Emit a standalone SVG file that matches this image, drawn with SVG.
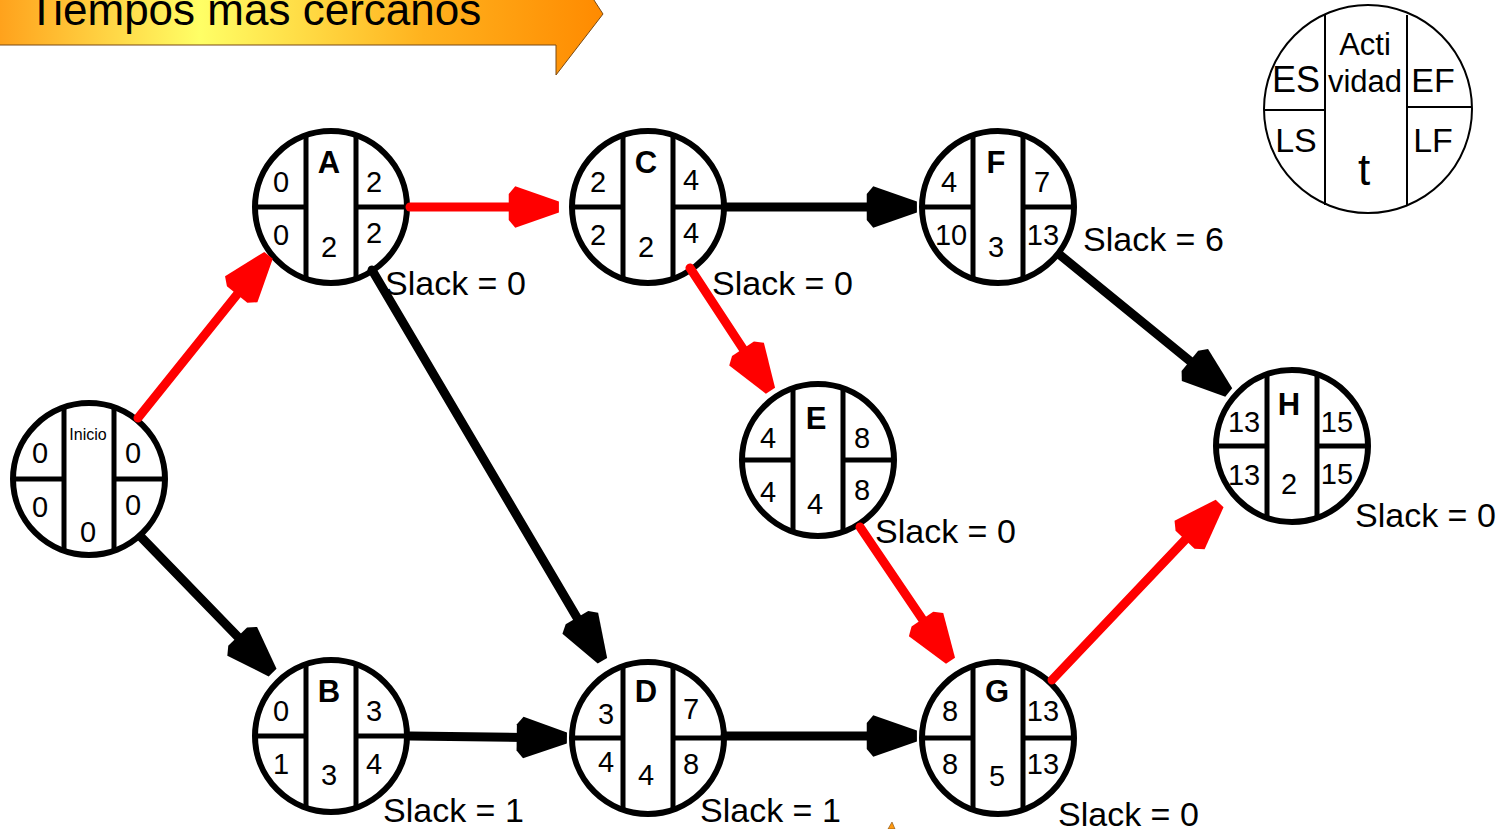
<svg xmlns="http://www.w3.org/2000/svg" width="1507" height="829" viewBox="0 0 1507 829">
  <defs>
    <linearGradient id="bannerFill" gradientUnits="userSpaceOnUse" x1="0" y1="0" x2="605" y2="0">
      <stop offset="0" stop-color="#ffa21c"/>
      <stop offset="0.33" stop-color="#ffff66"/>
      <stop offset="0.7" stop-color="#ffb21e"/>
      <stop offset="1" stop-color="#ff8a00"/>
    </linearGradient>
    <marker id="headRed" markerUnits="userSpaceOnUse" orient="auto" refX="-10" refY="0" markerWidth="60" markerHeight="60" viewBox="-50 -25 55 50" overflow="visible">
      <path d="M-46,-12 L-40,-19 L0,-5 L0,5 L-40,19 L-46,12 Z" fill="#ff0000"/>
    </marker>
    <marker id="headBlack" markerUnits="userSpaceOnUse" orient="auto" refX="-10" refY="0" markerWidth="60" markerHeight="60" viewBox="-50 -25 55 50" overflow="visible">
      <path d="M-46,-12 L-40,-19 L0,-5 L0,5 L-40,19 L-46,12 Z" fill="#000000"/>
    </marker>
  </defs>
  <style>
    text { font-family: "Liberation Sans", Arial, sans-serif; fill: #000; }
    .ring { fill: #fff; stroke: #000; stroke-width: 6; }
    .div { fill: none; stroke: #000; stroke-width: 5; }
    .num { font-size: 29px; text-anchor: middle; }
    .lbl { font-size: 31px; font-weight: bold; text-anchor: middle; }
    .slack { font-size: 34px; }
    .edge { fill: none; stroke-width: 9; stroke-linecap: round; }
    .crit { stroke: #ff0000; marker-end: url(#headRed); }
    .norm { stroke: #000; marker-end: url(#headBlack); }
    .key { fill: #fff; stroke: #000; stroke-width: 2; }
    .keyline { fill: none; stroke: #000; stroke-width: 2; }
    .keytxt { text-anchor: middle; }
  </style>

  <rect x="0" y="0" width="1507" height="829" fill="#fff"/>

  <!-- title banner -->
  <g id="banner">
    <polygon points="-5,-20 581,-20 603,14 556,75 556,45 -5,45" fill="url(#bannerFill)" stroke="#7a4a14" stroke-width="1"/>
    <text x="28" y="25" font-size="44">Tiempos más cercanos</text>
    <polygon points="888,829 892,822 895,829" fill="#ff9a10" stroke="#7a4a14" stroke-width="0.6"/>
  </g>

  <!-- legend: field layout of a node -->
  <g id="legend">
    <circle class="key" cx="1368" cy="109" r="104"/>
    <path class="keyline" d="M1325,14V205M1407,15V205M1264,110H1325M1407,107H1472"/>
    <text class="keytxt" x="1365" y="55" font-size="31">Acti</text>
    <text class="keytxt" x="1365" y="92" font-size="31">vidad</text>
    <text class="keytxt" x="1296" y="92" font-size="36">ES</text>
    <text class="keytxt" x="1433" y="92" font-size="34">EF</text>
    <text class="keytxt" x="1296" y="152" font-size="34">LS</text>
    <text class="keytxt" x="1433" y="152" font-size="34">LF</text>
    <text class="keytxt" x="1364" y="185" font-size="44">t</text>
  </g>

  <!-- activity nodes -->
  <g id="node-Inicio">
    <g transform="translate(89,479)">
      <circle class="ring" r="76"/>
      <path class="div" d="M-25,-72V72M25,-72V72M-76,0H-25M25,0H76"/>
      <text x="-1" y="-39" font-size="16" text-anchor="middle">Inicio</text>
      <text class="num" x="-49" y="-16">0</text>
      <text class="num" x="-49" y="38">0</text>
      <text class="num" x="-1" y="63">0</text>
      <text class="num" x="44" y="-16">0</text>
      <text class="num" x="44" y="36">0</text>
    </g>
  </g>

  <g id="node-A">
    <g transform="translate(331,207)">
      <circle class="ring" r="76"/>
      <path class="div" d="M-25,-72V72M25,-72V72M-76,0H-25M25,0H76"/>
      <text class="lbl" x="-2" y="-34">A</text>
      <text class="num" x="-50" y="-15">0</text>
      <text class="num" x="-50" y="38">0</text>
      <text class="num" x="-2" y="50">2</text>
      <text class="num" x="43" y="-15">2</text>
      <text class="num" x="43" y="36">2</text>
    </g>
    <text class="slack" x="385" y="295">Slack = 0</text>
  </g>

  <g id="node-B">
    <g transform="translate(331,736)">
      <circle class="ring" r="76"/>
      <path class="div" d="M-25,-72V72M25,-72V72M-76,0H-25M25,0H76"/>
      <text class="lbl" x="-2" y="-34">B</text>
      <text class="num" x="-50" y="-15">0</text>
      <text class="num" x="-50" y="38">1</text>
      <text class="num" x="-2" y="49">3</text>
      <text class="num" x="43" y="-15">3</text>
      <text class="num" x="43" y="38">4</text>
    </g>
    <text class="slack" x="383" y="822">Slack = 1</text>
  </g>

  <g id="node-C">
    <g transform="translate(648,207)">
      <circle class="ring" r="76"/>
      <path class="div" d="M-25,-72V72M25,-72V72M-76,0H-25M25,0H76"/>
      <text class="lbl" x="-2" y="-34">C</text>
      <text class="num" x="-50" y="-15">2</text>
      <text class="num" x="-50" y="38">2</text>
      <text class="num" x="-2" y="50">2</text>
      <text class="num" x="43" y="-17">4</text>
      <text class="num" x="43" y="36">4</text>
    </g>
    <text class="slack" x="712" y="295">Slack = 0</text>
  </g>

  <g id="node-D">
    <g transform="translate(648,738)">
      <circle class="ring" r="76"/>
      <path class="div" d="M-25,-72V72M25,-72V72M-76,0H-25M25,0H76"/>
      <text class="lbl" x="-2" y="-36">D</text>
      <text class="num" x="-42" y="-14">3</text>
      <text class="num" x="-42" y="34">4</text>
      <text class="num" x="-2" y="47">4</text>
      <text class="num" x="43" y="-19">7</text>
      <text class="num" x="43" y="36">8</text>
    </g>
    <text class="slack" x="700" y="822">Slack = 1</text>
  </g>

  <g id="node-E">
    <g transform="translate(818,460)">
      <circle class="ring" r="76"/>
      <path class="div" d="M-25,-72V72M25,-72V72M-76,0H-25M25,0H76"/>
      <text class="lbl" x="-2" y="-31">E</text>
      <text class="num" x="-50" y="-12">4</text>
      <text class="num" x="-50" y="42">4</text>
      <text class="num" x="-3" y="54">4</text>
      <text class="num" x="44" y="-12">8</text>
      <text class="num" x="44" y="40">8</text>
    </g>
    <text class="slack" x="875" y="543">Slack = 0</text>
  </g>

  <g id="node-F">
    <g transform="translate(998,207)">
      <circle class="ring" r="76"/>
      <path class="div" d="M-25,-72V72M25,-72V72M-76,0H-25M25,0H76"/>
      <text class="lbl" x="-2" y="-34">F</text>
      <text class="num" x="-49" y="-15">4</text>
      <text class="num" x="-47" y="38">10</text>
      <text class="num" x="-2" y="50">3</text>
      <text class="num" x="44" y="-15">7</text>
      <text class="num" x="45" y="38">13</text>
    </g>
    <text class="slack" x="1083" y="251">Slack = 6</text>
  </g>

  <g id="node-G">
    <g transform="translate(998,738)">
      <circle class="ring" r="76"/>
      <path class="div" d="M-25,-72V72M25,-72V72M-76,0H-25M25,0H76"/>
      <text class="lbl" x="-1" y="-36">G</text>
      <text class="num" x="-48" y="-17">8</text>
      <text class="num" x="-48" y="36">8</text>
      <text class="num" x="-1" y="48">5</text>
      <text class="num" x="45" y="-17">13</text>
      <text class="num" x="45" y="36">13</text>
    </g>
    <text class="slack" x="1058" y="826">Slack = 0</text>
  </g>

  <g id="node-H">
    <g transform="translate(1292,446)">
      <circle class="ring" r="76"/>
      <path class="div" d="M-25,-72V72M25,-72V72M-76,0H-25M25,0H76"/>
      <text class="lbl" x="-3" y="-31">H</text>
      <text class="num" x="-48" y="-14">13</text>
      <text class="num" x="-48" y="39">13</text>
      <text class="num" x="-3" y="48">2</text>
      <text class="num" x="45" y="-14">15</text>
      <text class="num" x="45" y="38">15</text>
    </g>
    <text class="slack" x="1355" y="527">Slack = 0</text>
  </g>

  <!-- precedence arrows (red = critical path) -->
  <g id="connectors">
    <line class="edge crit" x1="138" y1="418" x2="261.7" y2="263.8"/>
    <line class="edge norm" x1="141" y1="537" x2="265.0" y2="664.8"/>
    <line class="edge crit" x1="410" y1="207" x2="548" y2="207"/>
    <line class="edge norm" x1="372" y1="270" x2="596.9" y2="651.4"/>
    <line class="edge norm" x1="725" y1="207" x2="906" y2="207"/>
    <line class="edge crit" x1="690" y1="268" x2="764.5" y2="381.6"/>
    <line class="edge norm" x1="1060" y1="255" x2="1220.3" y2="385.7"/>
    <line class="edge crit" x1="860" y1="527" x2="944.4" y2="651.7"/>
    <line class="edge norm" x1="410" y1="736" x2="556" y2="737.9"/>
    <line class="edge norm" x1="725" y1="736" x2="906" y2="736"/>
    <line class="edge crit" x1="1052" y1="680" x2="1212.1" y2="511.3"/>
  </g>
</svg>
